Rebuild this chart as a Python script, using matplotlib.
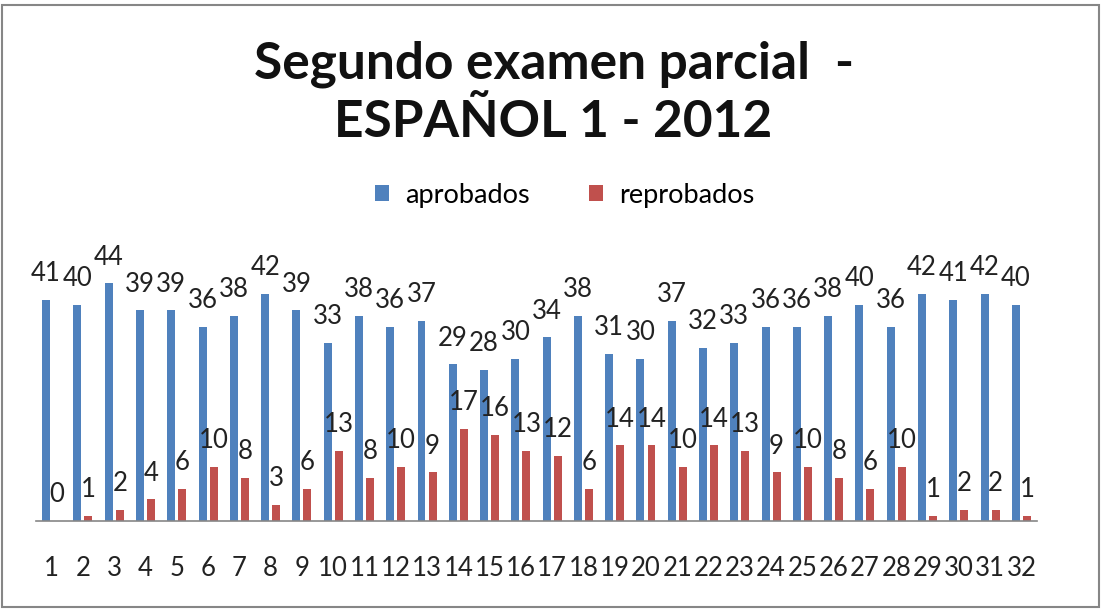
import matplotlib.pyplot as plt
import numpy as np
from matplotlib.patches import Rectangle

plt.rcParams['font.family'] = ['Lato', 'DejaVu Sans']

grupos = [str(i) for i in range(1, 33)]
aprobados = [41, 40, 44, 39, 39, 36, 38, 42, 39, 33, 38, 36, 37, 29, 28, 30,
             34, 38, 31, 30, 37, 32, 33, 36, 36, 38, 40, 36, 42, 41, 42, 40]
reprobados = [0, 1, 2, 4, 6, 10, 8, 3, 6, 13, 8, 10, 9, 17, 16, 13,
              12, 6, 14, 14, 10, 14, 13, 9, 10, 8, 6, 10, 1, 2, 2, 1]

fig = plt.figure(figsize=(11.07, 6.11), dpi=100)
ax = fig.add_axes([36 / 1107, 1 - 521 / 611, 1001 / 1107, 270 / 611])

x = np.arange(len(grupos))
w = 0.255
b1 = ax.bar(x - 0.176, aprobados, w, color='#4F81BD', label='aprobados')
b2 = ax.bar(x + 0.176, reprobados, w, color='#C0504D', label='reprobados')

for bars, vals in [(b1, aprobados), (b2, reprobados)]:
    for r, v in zip(bars, vals):
        ax.annotate(str(v), (r.get_x() + r.get_width() / 2, v),
                    xytext=(0, 19), textcoords='offset points',
                    ha='center', va='center', fontsize=18.5, color='#222222',
                    annotation_clip=False)

ax.set_xlim(-0.5, len(grupos) - 0.5)
ax.set_ylim(0, 50)
ax.set_xticks(x)
ax.set_xticklabels(grupos, fontsize=18.5, color='#222222')
ax.tick_params(axis='x', length=0, pad=25)
ax.set_yticks([])
for s in ['top', 'right', 'left']:
    ax.spines[s].set_visible(False)
ax.spines['bottom'].set_color('#868686')
ax.spines['bottom'].set_linewidth(1.2)

fig.text(0.5, 1 - 93 / 611, 'Segundo examen parcial  -\nESPAÑOL 1 - 2012',
         ha='center', va='center', fontsize=37, fontweight='bold',
         linespacing=1.3, color='#111111')

fig.legend(handles=[b1, b2], loc='center', bbox_to_anchor=(0.51, 1 - 195 / 611),
           ncol=2, frameon=False, fontsize=19.5, handlelength=0.5,
           handleheight=0.5, handletextpad=0.6, columnspacing=2.2)

fig.patches.append(Rectangle((2 / 1107, 4 / 611), 1097 / 1107, 602 / 611,
                             transform=fig.transFigure, fill=False,
                             edgecolor='#868686', linewidth=1.5))

fig.savefig('out.png', dpi=100)
